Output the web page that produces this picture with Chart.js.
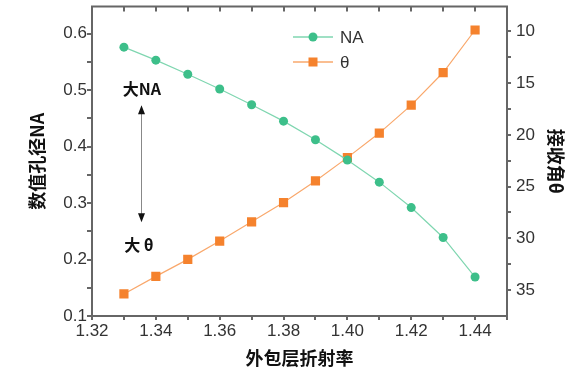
<!DOCTYPE html>
<html>
<head>
<meta charset="utf-8">
<script src="https://cdn.jsdelivr.net/npm/chart.js@4"></script>
<style>
  html, body { margin: 0; padding: 0; background: #fff; }
  #wrap { width: 584px; height: 373px; }
</style>
</head>
<body>
<div id="wrap"><canvas id="chart" width="584" height="373"></canvas></div>
<script>
const refIndex = [1.33, 1.34, 1.35, 1.36, 1.37, 1.38, 1.39, 1.40, 1.41, 1.42, 1.43, 1.44];
const naValues = [0.576, 0.553, 0.528, 0.502, 0.474, 0.445, 0.412, 0.376, 0.337, 0.292, 0.239, 0.169];
const thetaValues = [35.37, 33.67, 32.03, 30.26, 28.4, 26.54, 24.45, 22.2, 19.83, 17.13, 13.98, 9.87];

const xTicks = [1.32, 1.33, 1.34, 1.35, 1.36, 1.37, 1.38, 1.39, 1.40, 1.41, 1.42, 1.43, 1.44, 1.45];
const xLabels = ["1.32", "1.34", "1.36", "1.38", "1.40", "1.42", "1.44"];
const naTicks = [0.1, 0.15, 0.2, 0.25, 0.3, 0.35, 0.4, 0.45, 0.5, 0.55, 0.6];
const naLabels = ["0.1", "0.2", "0.3", "0.4", "0.5", "0.6"];
const thetaTicks = [10, 12.5, 15, 17.5, 20, 22.5, 25, 27.5, 30, 32.5, 35];
const thetaLabels = ["10", "15", "20", "25", "30", "35"];

// annotation: [text, x, NA]
const notes = [["大NA", 1.3356, 0.502], ["大 θ", 1.3347, 0.225]];
const arrow = { x: 1.3355, from: 0.473, to: 0.266 };

const green = "#3dbf8a";
const greenLine = "#7fd6b0";
const orange = "#f5822d";
const orangeLine = "#f9a86c";
const axisColor = "#666";
const tickFont = { family: "'Liberation Sans', Arial, sans-serif", size: 17 };
const titleFont = { family: "'Noto Sans CJK SC', sans-serif", size: 18, weight: "bold" };

const fmt = (v, labels) => labels.find((l) => Math.abs(parseFloat(l) - v) < 1e-6) || "";
const setTicks = (list) => (scale) => { scale.ticks = list.map((value) => ({ value })); };
const fitY = (w) => (s) => { s.width = w; s.paddingTop = 0; s.paddingBottom = 0; };

const decor = {
  id: "decor",
  afterDraw(chart) {
    const { ctx, chartArea: a, scales: { x, y } } = chart;
    ctx.save();
    ctx.strokeStyle = axisColor;
    ctx.lineWidth = 2;
    ctx.beginPath();
    ctx.moveTo(a.left - 1, a.top);
    ctx.lineTo(a.right + 1, a.top);
    x.ticks.forEach((t) => {
      const px = Math.round(x.getPixelForValue(t.value));
      ctx.moveTo(px, a.top);
      ctx.lineTo(px, a.top + 5);
    });
    ctx.stroke();

    // legend
    const items = [["NA", green, greenLine, "circle"], ["θ", orange, orangeLine, "rect"]];
    items.forEach(([label, c, lc, shape], i) => {
      const ly = 37 + i * 25;
      ctx.strokeStyle = lc;
      ctx.lineWidth = 1.5;
      ctx.beginPath();
      ctx.moveTo(293, ly);
      ctx.lineTo(333, ly);
      ctx.stroke();
      ctx.fillStyle = c;
      if (shape === "circle") {
        ctx.beginPath();
        ctx.arc(313, ly, 4.5, 0, Math.PI * 2);
        ctx.fill();
      } else {
        ctx.fillRect(308.5, ly - 4.5, 9, 9);
      }
      ctx.fillStyle = "#333";
      ctx.font = "17px 'Liberation Sans', Arial, sans-serif";
      ctx.textBaseline = "middle";
      ctx.textAlign = "left";
      ctx.fillText(label, 340, ly + 1);
    });

    // annotations
    ctx.fillStyle = "#111";
    ctx.font = "bold 16px 'Noto Sans CJK SC', sans-serif";
    ctx.textAlign = "center";
    ctx.textBaseline = "middle";
    notes.forEach(([t, vx, vy]) => ctx.fillText(t, x.getPixelForValue(vx), y.getPixelForValue(vy)));

    const ax = Math.round(x.getPixelForValue(arrow.x)) + 0.5;
    const top = y.getPixelForValue(arrow.from);
    const bot = y.getPixelForValue(arrow.to);
    ctx.strokeStyle = "#888";
    ctx.lineWidth = 1;
    ctx.beginPath();
    ctx.moveTo(ax, top + 8);
    ctx.lineTo(ax, bot - 8);
    ctx.stroke();
    ctx.fillStyle = "#111";
    ctx.beginPath();
    ctx.moveTo(ax, top);
    ctx.lineTo(ax - 3.5, top + 9);
    ctx.lineTo(ax + 3.5, top + 9);
    ctx.closePath();
    ctx.moveTo(ax, bot);
    ctx.lineTo(ax - 3.5, bot - 9);
    ctx.lineTo(ax + 3.5, bot - 9);
    ctx.closePath();
    ctx.fill();
    ctx.restore();
  }
};

new Chart(document.getElementById("chart"), {
  type: "line",
  data: {
    datasets: [
      {
        label: "NA",
        data: refIndex.map((v, i) => ({ x: v, y: naValues[i] })),
        yAxisID: "y",
        borderColor: greenLine,
        borderWidth: 1.2,
        pointStyle: "circle",
        pointRadius: 4.5,
        pointBackgroundColor: green,
        pointBorderColor: green,
        pointBorderWidth: 0
      },
      {
        label: "θ",
        data: refIndex.map((v, i) => ({ x: v, y: thetaValues[i] })),
        yAxisID: "y2",
        borderColor: orangeLine,
        borderWidth: 1.2,
        pointStyle: "rect",
        pointRadius: 6.5,
        pointBackgroundColor: orange,
        pointBorderColor: orange,
        pointBorderWidth: 0
      }
    ]
  },
  options: {
    responsive: false,
    animation: false,
    layout: { padding: { top: 5, left: 0, right: 0, bottom: 0 } },
    plugins: { legend: { display: false }, tooltip: { enabled: false } },
    scales: {
      x: {
        type: "linear",
        position: "bottom",
        min: 1.32,
        max: 1.45,
        afterBuildTicks: setTicks(xTicks),
        afterFit: (s) => { s.height = 57; s.paddingLeft = 0; s.paddingRight = 0; },
        grid: { drawOnChartArea: false, color: axisColor, lineWidth: 2, tickLength: 4 },
        border: { color: axisColor, width: 2 },
        ticks: { font: tickFont, color: "#333", padding: 1, maxRotation: 0, autoSkip: false, callback: (v) => fmt(v, xLabels) },
        title: { display: true, text: "外包层折射率", font: titleFont, color: "#111", padding: { top: 0, bottom: 4 } }
      },
      y: {
        position: "left",
        min: 0.1,
        max: 0.648,
        afterBuildTicks: setTicks(naTicks),
        afterFit: fitY(92),
        grid: { drawOnChartArea: false, color: axisColor, lineWidth: 2, tickLength: 5 },
        border: { color: axisColor, width: 2 },
        ticks: { font: tickFont, color: "#333", padding: 0, autoSkip: false, callback: (v) => fmt(v, naLabels) },
        title: { display: true, text: "数值孔径NA", font: titleFont, color: "#111", padding: { top: 26, bottom: 0 } }
      },
      y2: {
        position: "right",
        reverse: true,
        min: 7.6,
        max: 37.5,
        afterBuildTicks: setTicks(thetaTicks),
        afterFit: fitY(77),
        grid: { drawOnChartArea: false, color: axisColor, lineWidth: 2, tickLength: 4 },
        border: { color: axisColor, width: 2 },
        ticks: { font: tickFont, color: "#333", padding: 5, autoSkip: false, callback: (v) => fmt(v, thetaLabels) },
        title: { display: true, text: "接收角θ", font: titleFont, color: "#111", padding: { top: 17, bottom: 0 } }
      }
    }
  },
  plugins: [decor]
});
</script>
</body>
</html>
